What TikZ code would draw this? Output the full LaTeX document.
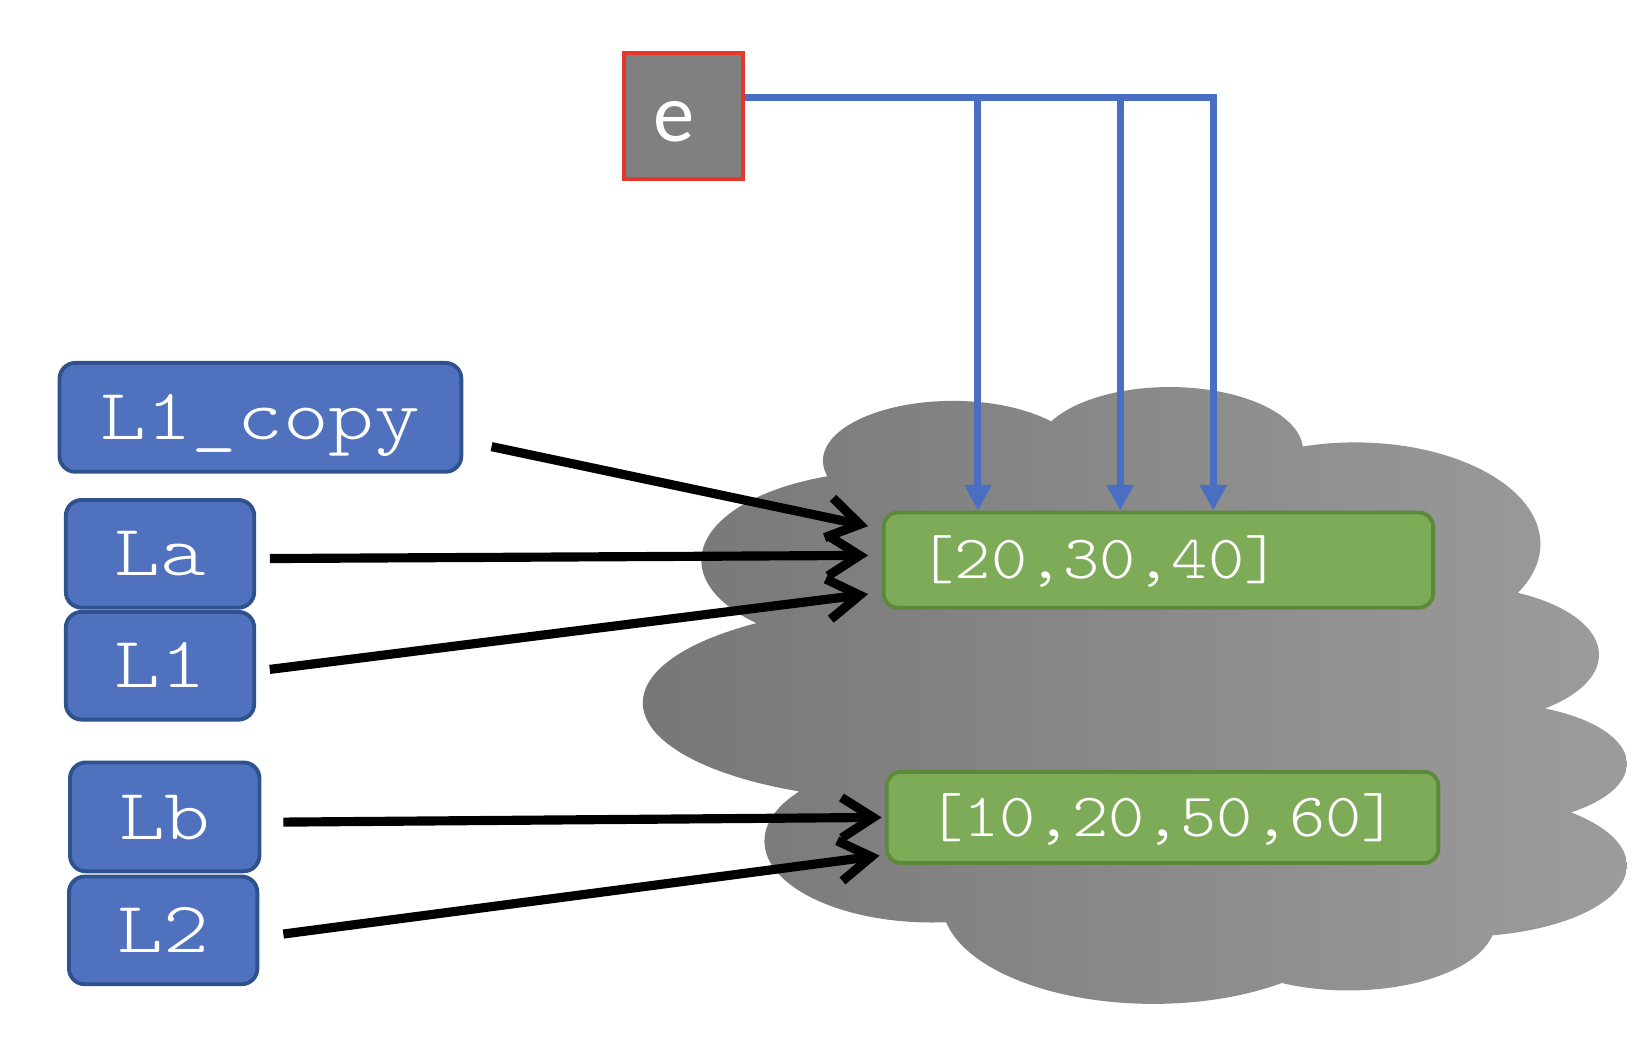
\documentclass[tikz,border=0pt]{standalone}
\usepackage{fontspec}
\usetikzlibrary{arrows.meta}
\newfontfamily\boxmono[FakeStretch=1.2]{lmmonolt10-regular.otf}
\newfontfamily\listmono[FakeStretch=1.12]{lmmonolt10-regular.otf}
\newfontfamily\calibfont{Carlito}
\newdimen\pxu
\pxu=0.010459cm
\definecolor{boxblue}{HTML}{4F71BE}
\definecolor{boxblueline}{HTML}{2F528F}
\definecolor{listgreen}{HTML}{7EAB57}
\definecolor{listgreenline}{HTML}{5A8A3A}
\definecolor{linkblue}{HTML}{4A6FC2}
\definecolor{cloudleft}{HTML}{777777}
\definecolor{cloudright}{HTML}{9C9C9C}
\definecolor{egray}{HTML}{808080}
\definecolor{ered}{HTML}{E5372B}
\begin{document}
\begin{tikzpicture}[x=0.010459cm, y=-0.010459cm,
  namebox/.style={draw=boxblueline, fill=boxblue, line width=1.1pt, rounded corners=4.5pt,
    text=white, font=\boxmono\fontsize{20.6}{24}\selectfont, inner sep=0pt,
    text height=12.6pt, text depth=0pt},
  listbox/.style={draw=listgreenline, fill=listgreen, line width=1.1pt, rounded corners=4pt,
    text=white, font=\listmono\fontsize{17.5}{20}\selectfont, inner ysep=0pt,
    text height=10.7pt, text depth=0pt},
  ptr/.style={line width=2.6pt, -{Straight Barb[length=9pt,width=11.5pt]}},
  link/.style={draw=linkblue, line width=2pt, -{Triangle[length=7.3pt,width=7.3pt]}}
]
\useasboundingbox (0,0) rectangle (1568,994);

% cloud
\begin{scope}[shift={(592.8,364.6)}, xscale=0.6219, yscale=0.389]
\shade[left color=cloudleft, right color=cloudright]
 (512,195) ellipse [x radius=200, y radius=147]
 (845,170) ellipse [x radius=205, y radius=156]
 (1130,400) ellipse [x radius=285, y radius=250]
 (1280,672) ellipse [x radius=225, y radius=170]
 (1330,940) ellipse [x radius=218, y radius=150]
 (1290,1190) ellipse [x radius=258, y radius=175]
 (1120,1330) ellipse [x radius=225, y radius=167]
 (820,1280) ellipse [x radius=325, y radius=250]
 (480,1130) ellipse [x radius=258, y radius=200]
 (450,790) ellipse [x radius=415, y radius=240]
 (420,440) ellipse [x radius=295, y radius=220]
 (800,760) ellipse [x radius=520, y radius=520];
\end{scope}

% list objects
\node[listbox, minimum width=5.491cm, minimum height=0.952cm, text width=4.791cm,
  inner xsep=0.35cm, align=left] (G1) at (1107.5,535.5) {[20,30,40]};
\node[listbox, minimum width=5.512cm, minimum height=0.910cm, inner xsep=0pt]
  (G2) at (1111.5,781.5) {[10,20,50,60]};

% names
\node[namebox, minimum width=4.016cm, minimum height=1.088cm] (L1copy) at (249,399) {L1\_copy};
\node[namebox, minimum width=1.883cm, minimum height=1.077cm] (La) at (153,529.5) {La};
\node[namebox, minimum width=1.883cm, minimum height=1.077cm] (L1) at (153,636.5) {L1};
\node[namebox, minimum width=1.893cm, minimum height=1.088cm] (Lb) at (157.5,781) {Lb};
\node[namebox, minimum width=1.883cm, minimum height=1.077cm] (L2) at (156,889.5) {L2};

% element e
\node[draw=ered, fill=egray, line width=1.1pt, minimum width=1.182cm, minimum height=1.255cm,
  inner sep=0pt, text=white, font=\calibfont\fontsize{23.5}{26}\selectfont,
  text height=14.2pt, text depth=0pt] (e) at (653.5,111) {e\hspace*{0.19cm}};

% blue links from e
\draw[link] ([yshift=18\pxu]e.east) -| ([xshift=-172.5\pxu]G1.north);
\draw[link] ([yshift=18\pxu]e.east) -| ([xshift=-36.5\pxu]G1.north);
\draw[link] ([yshift=18\pxu]e.east) -| ([xshift=52.5\pxu]G1.north);

% name pointers
\draw[ptr] ([xshift=27\pxu,yshift=-28\pxu]L1copy.east) -- ([xshift=-13\pxu,yshift=32.5\pxu]G1.west);
\draw[ptr] ([xshift=13\pxu,yshift=-4.5\pxu]La.east) -- ([xshift=-13\pxu,yshift=4.5\pxu]G1.west);
\draw[ptr] ([xshift=13\pxu,yshift=-3.5\pxu]L1.east) -- ([xshift=-13\pxu,yshift=-32.5\pxu]G1.west);
\draw[ptr] ([xshift=21\pxu,yshift=-5\pxu]Lb.east) -- ([xshift=-3\pxu]G2.west);
\draw[ptr] ([xshift=23\pxu,yshift=-3.5\pxu]L2.east) -- ([xshift=-5\pxu,yshift=-36.5\pxu]G2.west);
\end{tikzpicture}
\end{document}
